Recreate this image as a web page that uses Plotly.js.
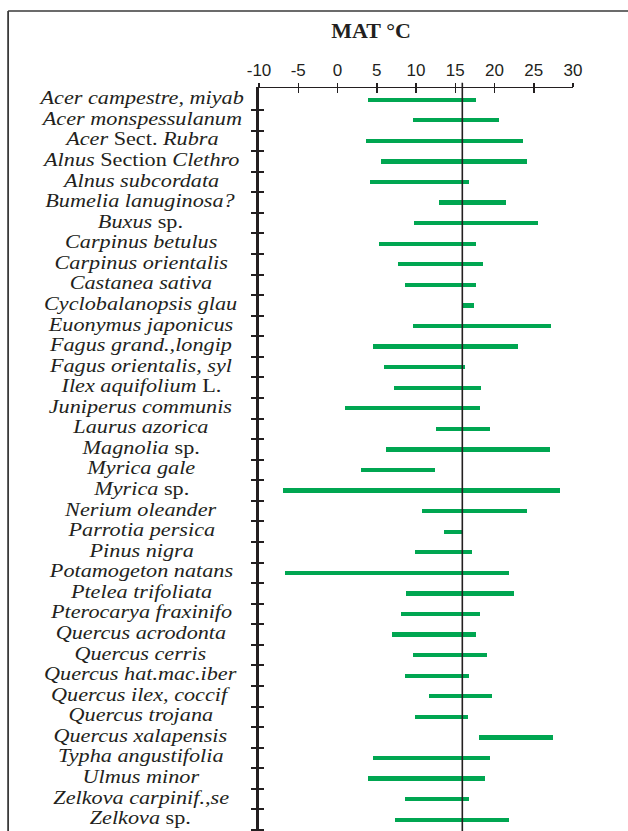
<!DOCTYPE html>
<html>
<head>
<meta charset="utf-8">
<script src="https://cdn.plot.ly/plotly-3.0.1.min.js"></script>
<style>
  html, body { margin: 0; padding: 0; background: #ffffff; }
  #chart { width: 628px; height: 831px; }
</style>
</head>
<body>
<div id="chart"></div>
<script>
// ---- data ----
const taxa = [
  "<i>Acer campestre, miyab</i>",
  "<i>Acer monspessulanum</i>",
  "<i>Acer</i> Sect. <i>Rubra</i>",
  "<i>Alnus</i> Section <i>Clethro</i>",
  "<i>Alnus subcordata</i>",
  "<i>Bumelia lanuginosa?</i>",
  "<i>Buxus</i> sp.",
  "<i>Carpinus betulus</i>",
  "<i>Carpinus orientalis</i>",
  "<i>Castanea sativa</i>",
  "<i>Cyclobalanopsis glau</i>",
  "<i>Euonymus japonicus</i>",
  "<i>Fagus grand.,longip</i>",
  "<i>Fagus orientalis, syl</i>",
  "<i>Ilex aquifolium</i> L.",
  "<i>Juniperus communis</i>",
  "<i>Laurus azorica</i>",
  "<i>Magnolia</i> sp.",
  "<i>Myrica gale</i>",
  "<i>Myrica</i> sp.",
  "<i>Nerium oleander</i>",
  "<i>Parrotia persica</i>",
  "<i>Pinus nigra</i>",
  "<i>Potamogeton natans</i>",
  "<i>Ptelea trifoliata</i>",
  "<i>Pterocarya fraxinifo</i>",
  "<i>Quercus acrodonta</i>",
  "<i>Quercus cerris</i>",
  "<i>Quercus hat.mac.iber</i>",
  "<i>Quercus ilex, coccif</i>",
  "<i>Quercus trojana</i>",
  "<i>Quercus xalapensis</i>",
  "<i>Typha angustifolia</i>",
  "<i>Ulmus minor</i>",
  "<i>Zelkova carpinif.,se</i>",
  "<i>Zelkova</i> sp."
];
const matMin = [3.9, 9.6, 3.6, 5.5, 4.2, 12.9, 9.7, 5.3, 7.7, 8.6, 15.8, 9.6, 4.5, 5.9, 7.2, 0.9, 12.5, 6.2,
                3.0, -6.9, 10.8, 13.6, 9.9, -6.7, 8.7, 8.1, 6.9, 9.6, 8.6, 11.7, 9.9, 18.0, 4.5, 3.9, 8.6, 7.3];
const matMax = [17.7, 20.6, 23.6, 24.2, 16.7, 21.5, 25.5, 17.7, 18.5, 17.6, 17.4, 27.2, 23.0, 16.3, 18.3, 18.2, 19.4, 27.1,
                12.4, 28.3, 24.2, 15.9, 17.1, 21.9, 22.5, 18.2, 17.6, 19.1, 16.7, 19.7, 16.6, 27.5, 19.4, 18.8, 16.7, 21.9];
const xTicks = [-10, -5, 0, 5, 10, 15, 20, 25, 30];
const refLine = 15.9;
const chartTitle = "MAT °C";

// ---- build ----
const idx = taxa.map((_, i) => i);
const boundaries = taxa.map((_, i) => i + 0.5);
const yRange = [35.55, -0.57];
const xRange = [-10, 30];
const ink = "#231f20";

const traces = [
  {
    type: "bar",
    orientation: "h",
    y: idx,
    base: matMin,
    x: matMax.map((v, i) => v - matMin[i]),
    width: 0.21,
    marker: { color: "#00a651", line: { width: 0 } },
    hoverinfo: "skip",
    showlegend: false
  },
  {
    type: "scatter", mode: "markers",
    x: [null], y: [null],
    xaxis: "x2", yaxis: "y2",
    hoverinfo: "skip", showlegend: false
  }
];

const annotations = taxa.map((t, i) => ({
  text: t,
  xref: "paper", yref: "y",
  x: -0.376, y: i,
  xanchor: "center", yanchor: "middle",
  yshift: 2,
  showarrow: false,
  font: { family: "Liberation Serif, Times New Roman, serif", size: 19, color: ink }
}));

const layout = {
  width: 628, height: 831,
  margin: { l: 259, r: 55, t: 88, b: 0, pad: 0 },
  paper_bgcolor: "#ffffff",
  plot_bgcolor: "rgba(0,0,0,0)",
  showlegend: false,
  bargap: 0,
  title: {
    text: "<b>" + chartTitle + "</b>",
    xref: "paper", x: 0.357, xanchor: "center",
    yref: "container", y: 0.964, yanchor: "middle",
    font: { family: "Liberation Serif, Times New Roman, serif", size: 22, color: ink }
  },
  xaxis: {
    side: "top",
    range: xRange,
    tickvals: xTicks,
    ticktext: xTicks.map(String),
    ticks: "outside", ticklen: 4, tickwidth: 1.5, tickcolor: ink,
    showline: true, linewidth: 1.5, linecolor: ink,
    showgrid: false, zeroline: false,
    tickfont: { family: "Liberation Sans, Arial, sans-serif", size: 17, color: ink },
    fixedrange: true
  },
  xaxis2: {
    overlaying: "x", side: "top", anchor: "y",
    range: xRange,
    tickvals: xTicks,
    ticks: "inside", ticklen: 5, tickwidth: 1.5, tickcolor: ink,
    showticklabels: false, showline: false, showgrid: false, zeroline: false,
    fixedrange: true
  },
  yaxis: {
    range: yRange,
    tickvals: boundaries,
    showticklabels: false,
    ticks: "outside", ticklen: 5, tickwidth: 2, tickcolor: ink,
    showline: true, linewidth: 3, linecolor: ink,
    showgrid: false, zeroline: false,
    fixedrange: true
  },
  yaxis2: {
    overlaying: "y", anchor: "x", side: "left",
    range: yRange,
    tickvals: boundaries,
    showticklabels: false,
    ticks: "inside", ticklen: 5, tickwidth: 2, tickcolor: ink,
    showline: false, showgrid: false, zeroline: false,
    fixedrange: true
  },
  shapes: [
    { type: "line", xref: "x", yref: "paper", x0: refLine, x1: refLine, y0: 1.007, y1: -0.01,
      line: { color: ink, width: 1.6 }, layer: "above" },
    { type: "line", xref: "paper", yref: "paper", x0: -0.799, x1: 1.2, y0: 1.1036, y1: 1.1036,
      line: { color: "#3a3a3a", width: 1.5 } },
    { type: "line", xref: "paper", yref: "paper", x0: -0.799, x1: -0.799, y0: 1.1036, y1: -0.02,
      line: { color: "#3a3a3a", width: 1.8 } }
  ],
  annotations: annotations
};

Plotly.newPlot("chart", traces, layout, { staticPlot: true, displayModeBar: false }).then(function (gd) {
  // the reference labels are set in a horizontally widened serif; widen each label about its centre
  const labelStretch = 1.17;
  gd.querySelectorAll("text.annotation-text").forEach(function (el) {
    const bb = el.getBBox();
    const cx = bb.x + bb.width / 2;
    const prev = el.getAttribute("transform") || "";
    el.setAttribute("transform", prev + " translate(" + cx + " 0) scale(" + labelStretch + " 1) translate(" + (-cx) + " 0)");
  });
});
</script>
</body>
</html>
